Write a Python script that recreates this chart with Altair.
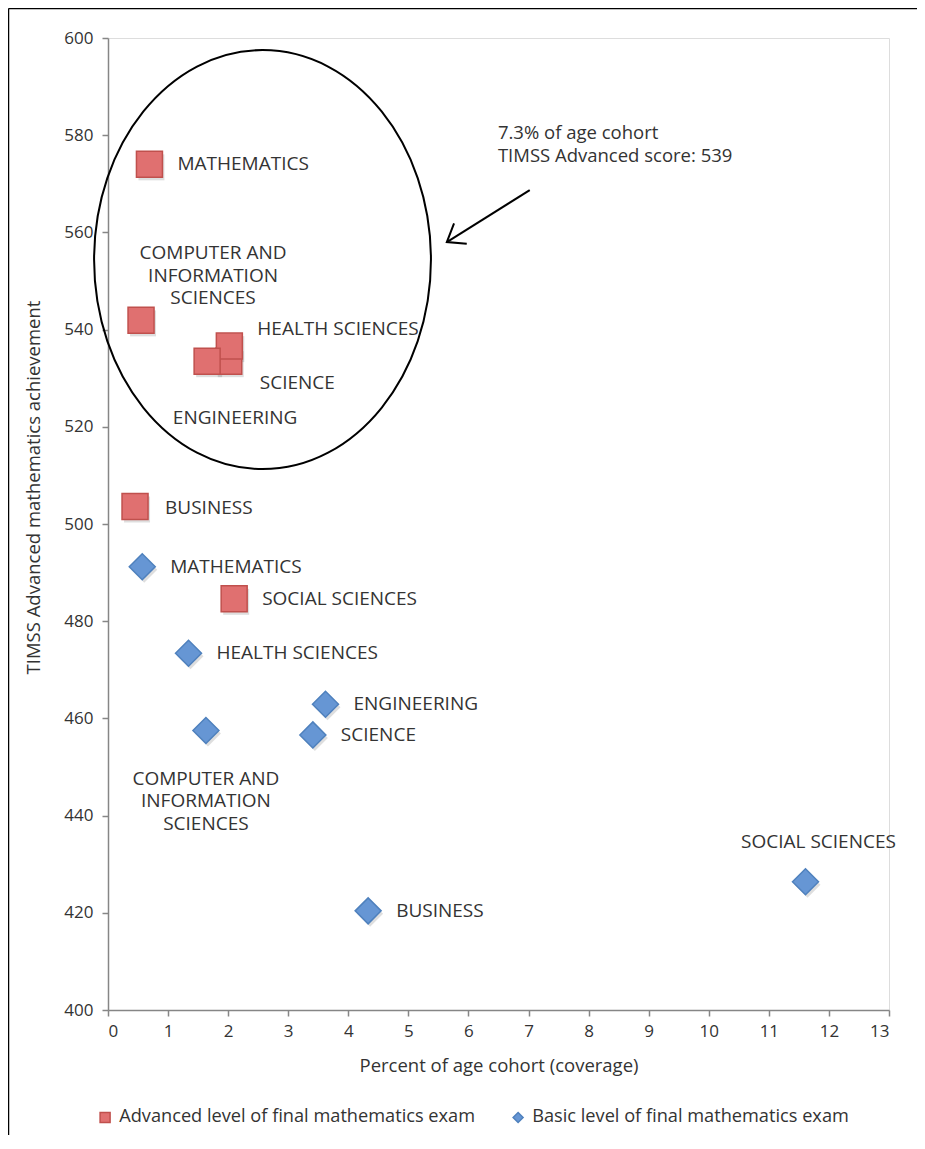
import altair as alt
import pandas as pd

# ---------------- data ----------------
series_names = ["Advanced level of final mathematics exam",
                "Basic level of final mathematics exam"]

adv_fields = ["SCIENCE", "HEALTH SCIENCES", "ENGINEERING", "MATHEMATICS",
              "COMPUTER AND INFORMATION SCIENCES", "BUSINESS", "SOCIAL SCIENCES"]
adv_coverage = [2.01, 2.02, 1.65, 0.69, 0.55, 0.45, 2.10]
adv_score = [533.5, 536.6, 533.5, 574.0, 541.9, 503.6, 484.6]

basic_fields = ["MATHEMATICS", "HEALTH SCIENCES", "ENGINEERING",
                "COMPUTER AND INFORMATION SCIENCES", "SCIENCE", "BUSINESS",
                "SOCIAL SCIENCES"]
basic_coverage = [0.57, 1.34, 3.62, 1.63, 3.41, 4.33, 11.61]
basic_score = [491.2, 473.4, 462.9, 457.5, 456.6, 420.4, 426.4]

x_ticks = list(range(0, 14))
y_ticks = list(range(400, 601, 20))

x_title = "Percent of age cohort (coverage)"
y_title = "TIMSS Advanced mathematics achievement"

annotation_lines = ["7.3% of age cohort", "TIMSS Advanced score: 539"]
# annotation anchors (data units)
annotation_anchor = [6.49, 580.45]
ellipse_center = [2.572, 554.4]
arrow_from = [7.02, 568.7]
arrow_to = [5.64, 558.0]

# ---------------- styles ----------------
FONT = "Open Sans"
TXT = "#333333"
AXC = "#868686"
fills = ["#e07070", "#6696d4"]
strokes = ["#c0504d", "#4f81bd"]
shapes = ["square", "diamond"]
LBL = 19

multi_line = {"COMPUTER AND INFORMATION SCIENCES": "COMPUTER AND\nINFORMATION\nSCIENCES"}

# label placement (dx, dy, align) per series / field; default to the right
default_style = (28, 0, "left")
label_style = {
    (0, "COMPUTER AND INFORMATION SCIENCES"): (72, -67, "center"),
    (0, "HEALTH SCIENCES"): (28, -17, "left"),
    (0, "SCIENCE"): (31, 22, "left"),
    (0, "ENGINEERING"): (28, 57, "center"),
    (0, "BUSINESS"): (30, 1, "left"),
    (1, "COMPUTER AND INFORMATION SCIENCES"): (0, 48, "center"),
    (1, "SOCIAL SCIENCES"): (13, -40, "center"),
}

rows = []
for i, (f, c, s) in enumerate(zip(adv_fields, adv_coverage, adv_score)):
    rows.append({"id": f"a{i}", "series": series_names[0], "sidx": 0, "field": f,
                 "label": multi_line.get(f, f), "coverage": c, "score": s})
for i, (f, c, s) in enumerate(zip(basic_fields, basic_coverage, basic_score)):
    rows.append({"id": f"b{i}", "series": series_names[1], "sidx": 1, "field": f,
                 "label": multi_line.get(f, f), "coverage": c, "score": s})
df = pd.DataFrame(rows)

xscale = alt.Scale(domain=[0, 13], nice=False, zero=False)
yscale = alt.Scale(domain=[400, 600], nice=False, zero=False)

X = alt.X("coverage:Q", scale=xscale,
          axis=alt.Axis(values=x_ticks, format="d", title=x_title, grid=False,
                        tickSize=6, labelPadding=7, titlePadding=17,
                        domainColor=AXC, tickColor=AXC, domainWidth=1.5,
                        tickWidth=1.5, labelFont=FONT, titleFont=FONT,
                        labelFontSize=17, titleFontSize=18.5, labelColor=TXT,
                        titleColor=TXT, titleFontWeight="normal"))
Y = alt.Y("score:Q", scale=yscale,
          axis=alt.Axis(values=y_ticks, format="d", title=y_title, grid=False,
                        tickSize=6, labelPadding=9, titlePadding=20, titleY=449,
                        domainColor=AXC, tickColor=AXC, domainWidth=1.5,
                        tickWidth=1.5, labelFont=FONT, titleFont=FONT,
                        labelFontSize=17, titleFontSize=18.5, labelColor=TXT,
                        titleColor=TXT, titleFontWeight="normal"))

legend = alt.Legend(title=None, orient="none", legendX=-12, legendY=1070,
                    direction="horizontal", columnPadding=33, labelFont=FONT,
                    labelFontSize=18.2, labelColor=TXT, symbolSize=100,
                    labelOffset=5, padding=0, labelLimit=0)

base = alt.Chart(df)

# soft drop shadows under the markers (one layer per series, fixed shape)
shadows = []
for sidx, shp in enumerate(shapes):
    shadows.append(
        base.transform_filter(alt.datum.sidx == sidx).mark_point(
            filled=True, size=676, opacity=0.13, color="black", shape=shp,
            xOffset=2, yOffset=3
        ).encode(x=alt.X("coverage:Q", scale=xscale),
                 y=alt.Y("score:Q", scale=yscale))
    )

points = base.mark_point(filled=True, size=676, opacity=1, strokeWidth=1.5).encode(
    x=X, y=Y,
    color=alt.Color("series:N", scale=alt.Scale(domain=series_names, range=fills),
                    legend=legend),
    shape=alt.Shape("series:N", scale=alt.Scale(domain=series_names, range=shapes),
                    legend=legend),
    stroke=alt.Stroke("series:N", scale=alt.Scale(domain=series_names, range=strokes),
                      legend=None),
    order=alt.Order("sidx:Q"),
)

label_layers = []
for r in rows:
    dx, dy, align = label_style.get((r["sidx"], r["field"]), default_style)
    label_layers.append(
        base.transform_filter(alt.datum.id == r["id"]).mark_text(
            dx=dx, dy=dy, align=align, baseline="middle", font=FONT,
            fontSize=LBL, color=TXT, lineBreak="\n", lineHeight=22.5
        ).encode(x=alt.X("coverage:Q", scale=xscale),
                 y=alt.Y("score:Q", scale=yscale), text="label:N")
    )

ann_df = pd.DataFrame({"x": [annotation_anchor[0]], "y": [annotation_anchor[1]],
                       "t": ["\n".join(annotation_lines)]})
ann = alt.Chart(ann_df).mark_text(align="left", baseline="middle", font=FONT,
                                  fontSize=18.5, color=TXT, lineBreak="\n",
                                  lineHeight=23).encode(
    x=alt.X("x:Q", scale=xscale), y=alt.Y("y:Q", scale=yscale), text="t:N")

ell_df = pd.DataFrame({"x": [ellipse_center[0]], "y": [ellipse_center[1]]})
ellipse = alt.Chart(ell_df).mark_point(
    shape="M -0.804 0 A 0.804 1 0 1 0 0.804 0 A 0.804 1 0 1 0 -0.804 0 Z",
    size=419 ** 2, filled=False, stroke="black", strokeWidth=2, opacity=1
).encode(x=alt.X("x:Q", scale=xscale), y=alt.Y("y:Q", scale=yscale))

arr_df = pd.DataFrame({"x": [arrow_from[0]], "y": [arrow_from[1]],
                       "x2": [arrow_to[0]], "y2": [arrow_to[1]]})
arrow_line = alt.Chart(arr_df).mark_rule(color="black", strokeWidth=2).encode(
    x=alt.X("x:Q", scale=xscale), y=alt.Y("y:Q", scale=yscale), x2="x2:Q", y2="y2:Q")
arrow_head = alt.Chart(arr_df).mark_point(
    shape="M -1 -0.75 L 0 0 L -1 0.75", size=1024, filled=False, stroke="black",
    strokeWidth=2, opacity=1, angle=148
).encode(x=alt.X("x2:Q", scale=xscale), y=alt.Y("y2:Q", scale=yscale))

# outer frame: top and left edges of the figure box
one = pd.DataFrame({"a": [0]})
frame_top = alt.Chart(one).mark_rule(color="black", strokeWidth=1.5).encode(
    x=alt.value(-99.5), x2=alt.value(809), y=alt.value(-29.5))
frame_left = alt.Chart(one).mark_rule(color="black", strokeWidth=1.5).encode(
    x=alt.value(-99.5), y=alt.value(-29.5), y2=alt.value(1097))

chart = alt.layer(frame_top, frame_left, ellipse, arrow_line, arrow_head, ann,
                  *shadows, points, *label_layers).properties(
    width=781, height=972,
    padding={"left": 100, "top": 30, "right": 28, "bottom": 125},
    autosize=alt.AutoSizeParams(type="none"),
).configure_view(stroke=None).configure(background="white")

chart.save("out.html", embed_options={"renderer": "svg", "actions": False})
